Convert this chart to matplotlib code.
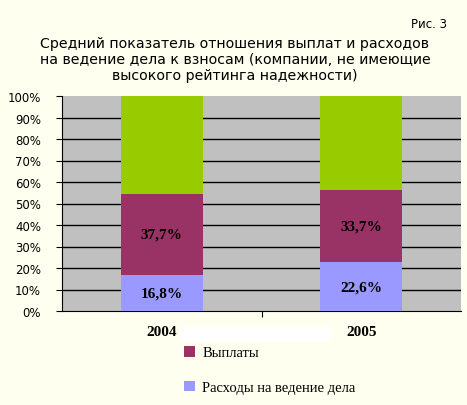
import matplotlib
matplotlib.use("Agg")
import matplotlib.pyplot as plt
import matplotlib.patches as mpatches
import numpy as np

# data
years = ['2004', '2005']
rashody = [16.8, 22.6]      # Расходы на ведение дела
vyplaty = [37.7, 33.7]      # Выплаты
ostatok = [100 - a - b for a, b in zip(rashody, vyplaty)]
ytick_vals = list(range(0, 101, 10))

bg = '#FFFFEF'
fig = plt.figure(figsize=(4.67, 4.06), dpi=100, facecolor=bg)
ax = fig.add_axes([62/467, 1 - 312/406, 399/467, 215/406])
ax.set_facecolor('#C0C0C0')

x = np.arange(len(years))
w = 0.41
b1 = ax.bar(x, rashody, w, color='#9999FF', zorder=3, label='Расходы на ведение дела')
b2 = ax.bar(x, vyplaty, w, bottom=rashody, color='#993366', zorder=3, label='Выплаты')
ax.bar(x, ostatok, w, bottom=np.array(rashody) + np.array(vyplaty), color='#99CC00', zorder=3)

# gridlines (not at 0 and 100)
for v in ytick_vals[1:-1]:
    ax.axhline(v, color='black', linewidth=1, zorder=1)

# value labels
for i in range(len(years)):
    ax.text(x[i], rashody[i] / 2, f'{rashody[i]:.1f}%'.replace('.', ','), ha='center', va='center',
            family='Liberation Serif', fontweight='bold', fontsize=11)
    ax.text(x[i], rashody[i] + vyplaty[i] / 2, f'{vyplaty[i]:.1f}%'.replace('.', ','), ha='center', va='center',
            family='Liberation Serif', fontweight='bold', fontsize=11)

ax.set_xlim(-0.5, len(years) - 0.5)
ax.set_ylim(0, 100)
ax.set_yticks(ytick_vals)
ax.set_yticklabels([f'{v}%' for v in ytick_vals], family='DejaVu Sans', fontsize=8.5)

ax.set_xticks([0.5])
ax.set_xticklabels([''])
ax.tick_params(axis='x', length=4, direction='out', color='black')
ax.tick_params(axis='y', length=4, direction='out', color='black', pad=11)
for i, yr in enumerate(years):
    ax.text(x[i], -9.5, yr, ha='center', va='center', family='Liberation Serif',
            fontweight='bold', fontsize=11, clip_on=False)

for s in ['top', 'right']:
    ax.spines[s].set_visible(False)
ax.spines['left'].set_color('black')
ax.spines['bottom'].set_color('black')

# white strip on top of legend area, as in the original
fig.patches.append(mpatches.Rectangle((180/467, 1 - 342/406), 151/467, 14/406,
                                      transform=fig.transFigure, facecolor='white',
                                      edgecolor='none', zorder=0))

leg = fig.legend(handles=[b2, b1], loc='upper left', bbox_to_anchor=(184/467, 1 - 347/406),
                 frameon=False, prop={'family': 'Liberation Serif', 'size': 10.5},
                 handlelength=0.75, handleheight=0.75, labelspacing=1.45, handletextpad=0.5,
                 borderaxespad=0, borderpad=0)

fig.text(447/467, 1 - 25/406, 'Рис. 3', ha='right', va='center', fontsize=8.5, family='DejaVu Sans')
fig.text(235/467, 1 - 60/406,
         'Средний показатель отношения выплат и расходов\n'
         'на ведение дела к взносам (компании, не имеющие\n'
         'высокого рейтинга надежности)',
         ha='center', va='center', fontsize=10.2, family='DejaVu Sans', linespacing=1.22)

fig.savefig('out.png', dpi=100, facecolor=bg)
